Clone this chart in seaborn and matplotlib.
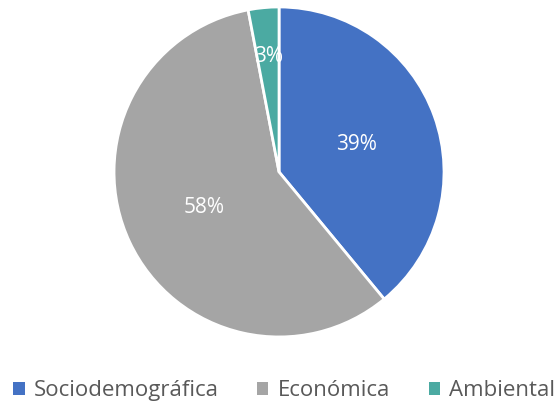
import matplotlib
matplotlib.use("Agg")
import matplotlib.pyplot as plt
import seaborn as sns
from matplotlib.patches import Patch

categorias = ["Sociodemográfica", "Económica", "Ambiental"]
valores = [39, 58, 3]
colores = ["#4472C4", "#A5A5A5", "#4BAAA2"]

sns.set_theme(style="white")
plt.rcParams["font.family"] = ["Open Sans", "DejaVu Sans"]

fig = plt.figure(figsize=(5.57, 4.05), dpi=100)
ax = fig.add_axes([0.2047, 0.168, 0.5925, 0.8148])

wedges, textos, pcts = ax.pie(
    valores, colors=colores, startangle=90, counterclock=False,
    autopct="%1.0f%%", pctdistance=0.5, radius=1,
    wedgeprops=dict(edgecolor="white", linewidth=2),
    textprops=dict(color="white", fontsize=15),
)
# etiqueta del sector pequeño más afuera
x, y = pcts[2].get_position()
pcts[2].set_position((x * 1.4, y * 1.4))
ax.set_xlim(-1, 1)
ax.set_ylim(-1, 1)

handles = [Patch(facecolor=c, edgecolor="none") for c in colores]
fig.legend(handles, categorias, loc="center", bbox_to_anchor=(0.51, 0.035),
           ncol=3, frameon=False, fontsize=16, labelcolor="#595959",
           handlelength=0.5, handleheight=0.5, handletextpad=0.4,
           columnspacing=1.75)

fig.savefig("out.png", dpi=100)
